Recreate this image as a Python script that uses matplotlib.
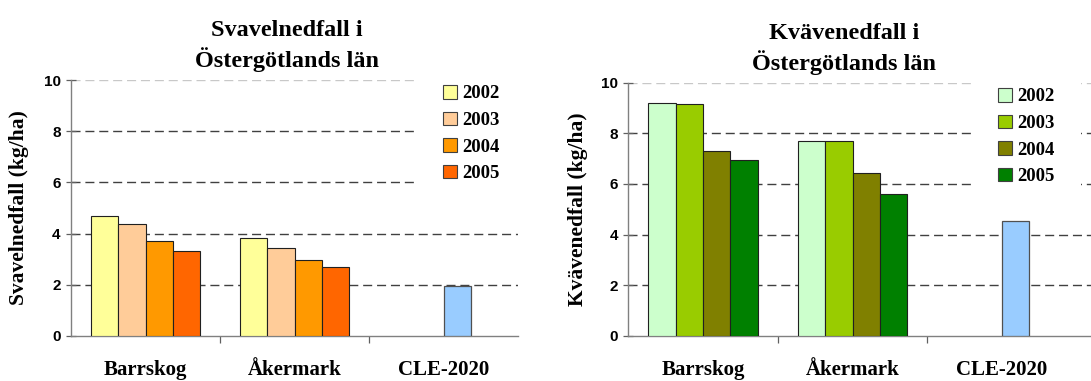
import matplotlib
matplotlib.use("Agg")
import matplotlib.pyplot as plt
from matplotlib.patches import Patch

# Deposition data (kg/ha)
categories = ["Barrskog", "Åkermark", "CLE-2020"]
years = ["2002", "2003", "2004", "2005"]

sulfur_barrskog = [4.70, 4.36, 3.72, 3.30]
sulfur_akermark = [3.84, 3.45, 2.95, 2.68]
sulfur_cle2020 = 1.93

nitrogen_barrskog = [9.21, 9.17, 7.31, 6.96]
nitrogen_akermark = [7.71, 7.71, 6.43, 5.59]
nitrogen_cle2020 = 4.55

sulfur_colors = ["#FFFF99", "#FFCC99", "#FF9900", "#FF6600"]
nitrogen_colors = ["#CCFFCC", "#99CC00", "#808000", "#008000"]
cle_color = "#99CCFF"

SERIF = "Liberation Serif"
SANS = "Liberation Sans"

fig = plt.figure(figsize=(10.91, 3.81), dpi=100)

BAR_W = 0.183


def draw_panel(ax, barrskog, akermark, cle, colors, ylabel, xmax, ylabel_x,
               legend_anchor):
    for k in range(len(years)):
        off = (k - 1.5) * BAR_W
        ax.bar([0 + off, 1 + off], [barrskog[k], akermark[k]], width=BAR_W,
               color=colors[k], edgecolor="#202020", linewidth=0.8, zorder=3)
    # the 2020 scenario sits in the third slot of its group
    ax.bar([2 + 0.5 * BAR_W], [cle], width=BAR_W, color=cle_color,
           edgecolor="#505050", linewidth=0.9, zorder=3)

    ax.set_xlim(-0.5, xmax)
    ax.set_ylim(0, 10)
    ax.set_yticks(range(0, 11, 2))
    ax.set_yticklabels([str(v) for v in range(0, 11, 2)],
                       fontfamily=SANS, fontweight="bold", fontsize=11)
    ax.tick_params(axis="y", direction="inout", length=7, width=0.9,
                   color="#606060", pad=4)

    # category boundaries carry tick marks, centres carry labels
    ax.set_xticks([0.5, 1.5])
    ax.set_xticklabels([])
    ax.tick_params(axis="x", which="major", direction="out", length=5,
                   width=0.9, color="#606060")
    ax.set_xticks([0, 1, 2], minor=True)
    ax.set_xticklabels(categories, minor=True, fontfamily=SERIF,
                       fontweight="bold", fontsize=15, va="baseline")
    ax.tick_params(axis="x", which="minor", length=0, pad=28)

    for s in ("top", "right"):
        ax.spines[s].set_visible(False)
    for s in ("left", "bottom"):
        ax.spines[s].set_color("#808080")
        ax.spines[s].set_linewidth(1.0)

    ax.set_axisbelow(True)
    ax.yaxis.grid(True, color="#404040", linewidth=1.0,
                  linestyle=(0, (6.5, 3.5)))
    gl = ax.get_ygridlines()
    gl[0].set_visible(False)
    gl[-1].set_color("#C8C8C8")

    ax.set_ylabel(ylabel, fontfamily=SERIF, fontweight="bold", fontsize=15.5)
    ax.yaxis.set_label_coords(ylabel_x, 0.5)

    handles = [Patch(facecolor=c, edgecolor="#404040", linewidth=0.8)
               for c in colors]
    leg = ax.legend(handles, years, loc="upper left",
                    bbox_to_anchor=legend_anchor,
                    bbox_transform=fig.transFigure, frameon=True,
                    fancybox=False, framealpha=1, borderaxespad=0,
                    borderpad=1.4, handlelength=0.72, handleheight=0.72,
                    handletextpad=0.3, labelspacing=0.5,
                    prop={"family": SERIF, "weight": "bold", "size": 13.5})
    leg.get_frame().set_facecolor("white")
    leg.get_frame().set_edgecolor("none")
    leg.set_zorder(5)


ax1 = fig.add_axes([71 / 1091, 45.3 / 381, 447 / 1091, 255.4 / 381])
draw_panel(ax1, sulfur_barrskog, sulfur_akermark, sulfur_cle2020,
           sulfur_colors, "Svavelnedfall (kg/ha)", 2.5, -0.094,
           (417 / 1091, 1 - 59 / 381))

ax2 = fig.add_axes([628.3 / 1091, 45.3 / 381, 463.5 / 1091, 253 / 381])
draw_panel(ax2, nitrogen_barrskog, nitrogen_akermark, nitrogen_cle2020,
           nitrogen_colors, "Kvävenedfall (kg/ha)", 2.6, -0.087,
           (972 / 1091, 1 - 62 / 381))

fig.text(286.8 / 1091, 1 - 66.7 / 381, "Svavelnedfall i\nÖstergötlands län",
         ha="center", va="baseline", multialignment="center",
         fontfamily=SERIF, fontweight="bold", fontsize=17.5, linespacing=1.3)
fig.text(844 / 1091, 1 - 70 / 381, "Kvävenedfall i\nÖstergötlands län",
         ha="center", va="baseline", multialignment="center",
         fontfamily=SERIF, fontweight="bold", fontsize=17.5, linespacing=1.3)

fig.savefig("out.png", dpi=100)
